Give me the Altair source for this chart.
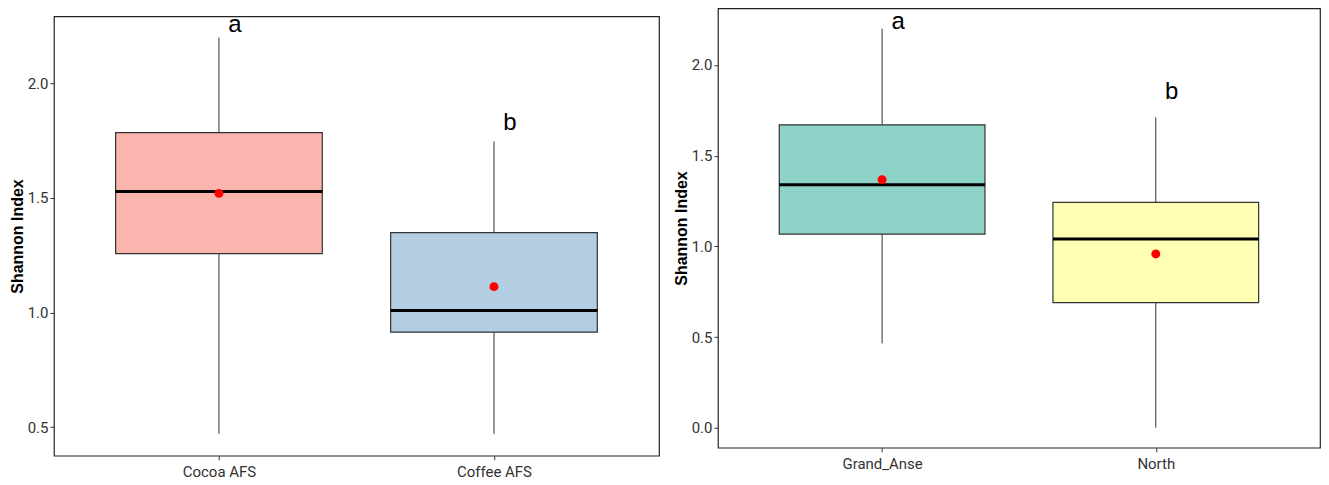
import altair as alt
import pandas as pd

# ---- Left panel: agroforestry system ----
left_groups = ["Cocoa AFS", "Coffee AFS"]
left_low = [0.47, 0.47]
left_q1 = [1.257, 0.914]
left_median = [1.528, 1.009]
left_q3 = [1.785, 1.349]
left_high = [2.20, 1.747]
left_mean = [1.52, 1.113]
left_letters = ["a", "b"]
left_letter_y = [2.223, 1.799]
left_colors = ["#FBB4AE", "#B3CDE3"]
left_ticks = [0.5, 1.0, 1.5, 2.0]
left_domain = [0.375, 2.293]

# ---- Right panel: region ----
right_groups = ["Grand_Anse", "North"]
right_low = [0.465, 0.0]
right_q1 = [1.067, 0.69]
right_median = [1.339, 1.04]
right_q3 = [1.67, 1.242]
right_high = [2.20, 1.711]
right_mean = [1.368, 0.958]
right_letters = ["a", "b"]
right_letter_y = [2.20, 1.811]
right_colors = ["#8DD3C7", "#FFFFB3"]
right_ticks = [0.0, 0.5, 1.0, 1.5, 2.0]
right_domain = [-0.110, 2.312]

W_LEFT = 606
W_RIGHT = 603
H = 440
LABEL_FONT = "Roboto, Liberation Sans, sans-serif"
SANS = "Liberation Sans, Arial, Helvetica, sans-serif"


def panel(groups, low, q1, med, q3, high, mean, letters, letter_y, colors, domain, ticks, W):
    box_w = round(W / 2.2 * 0.75)
    df = pd.DataFrame(dict(group=groups, low=low, q1=q1, median=med, q3=q3,
                           high=high, mean=mean, letter=letters, letter_y=letter_y))
    x = alt.X("group:N", sort=groups,
              scale=alt.Scale(type="point", padding=0.6, domain=groups),
              axis=alt.Axis(title=None, labelAngle=0, labelFont=LABEL_FONT, labelFontSize=15,
                            labelColor="#333333", tickColor="#333333", tickSize=4,
                            labelPadding=5, domain=False, grid=False))
    yscale = alt.Scale(domain=domain, nice=False, zero=False)
    yaxis = alt.Axis(values=ticks, format=".1f", labelFont=LABEL_FONT, labelFontSize=15,
                     labelColor="#333333", tickColor="#333333", tickSize=4, labelPadding=2,
                     domain=False, grid=False, titleFont=SANS, titleFontWeight="bold",
                     titleFontSize=16, titleColor="black", titlePadding=2)

    def Y(field):
        return alt.Y(field, scale=yscale, axis=yaxis, title="Shannon Index")

    base = alt.Chart(df)
    whisk = base.mark_rule(color="#333333", strokeWidth=1).encode(
        x=x, y=Y("low:Q"), y2="high:Q")
    box = base.mark_bar(size=box_w, stroke="#333333", strokeWidth=1.2, opacity=1).encode(
        x=x, y=Y("q1:Q"), y2="q3:Q",
        color=alt.Color("group:N", scale=alt.Scale(domain=groups, range=colors), legend=None))
    median = base.mark_tick(size=box_w, thickness=3, color="black", opacity=1).encode(
        x=x, y=Y("median:Q"))
    means = base.mark_point(filled=True, color="#FF0000", size=80, opacity=1).encode(
        x=x, y=Y("mean:Q"))
    txt = base.mark_text(dx=16, fontSize=24, font=SANS, color="black", clip=True,
                         baseline="alphabetic").encode(
        x=x, y=Y("letter_y:Q"), text="letter:N")
    return alt.layer(whisk, box, median, means, txt).properties(width=W, height=H)


left_panel = panel(left_groups, left_low, left_q1, left_median, left_q3, left_high, left_mean,
                   left_letters, left_letter_y, left_colors, left_domain, left_ticks, W_LEFT)
right_panel = panel(right_groups, right_low, right_q1, right_median, right_q3, right_high,
                    right_mean, right_letters, right_letter_y, right_colors, right_domain,
                    right_ticks, W_RIGHT)

# small invisible spacer so the left panel sits a few pixels lower, as in the original
spacer = alt.Chart(pd.DataFrame({"v": [0]})).mark_rule(opacity=0, strokeWidth=0).encode(
    x=alt.value(0), x2=alt.value(10), y=alt.value(0.5)
).properties(width=W_LEFT, height=1, view=alt.ViewBackground(stroke="transparent"))

left = alt.vconcat(spacer, left_panel, spacing=5)

chart = alt.hconcat(left, right_panel, spacing=12).resolve_scale(
    color="independent"
).properties(
    padding={"left": 0, "top": -1, "right": 0, "bottom": 0}
).configure_view(stroke="#222222", strokeWidth=1.2)

chart.save("out.html", embed_options={"renderer": "svg", "actions": False})
